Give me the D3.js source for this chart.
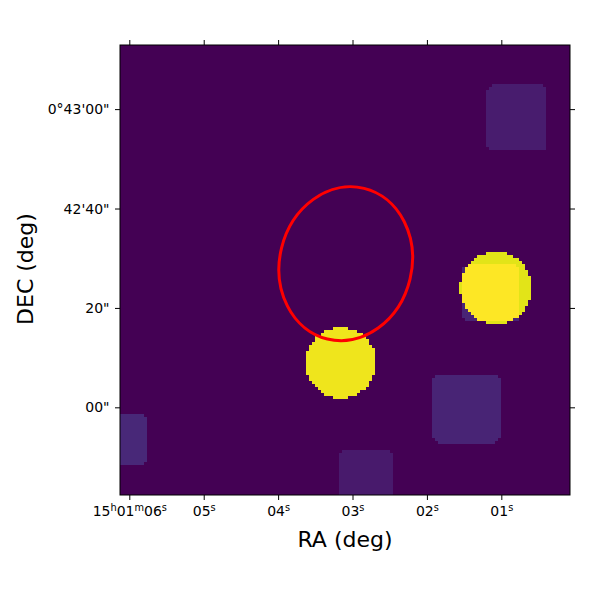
<!DOCTYPE html>
<html>
<head>
<meta charset="UTF-8">
<title>Cutout</title>
<style>
  body { margin: 0; background: #fff; }
  text { font-family: "DejaVu Sans", sans-serif; fill: #000; }
  .tick line { stroke: #000; stroke-width: 1; }
  .pix rect { shape-rendering: crispEdges; }
</style>
</head>
<body>
<svg id="chart" width="600" height="600"></svg>
<script src="https://d3js.org/d3.v7.min.js"></script>
<script>
// RA in seconds of 15h01m, Dec in arcsec relative to 0°42'00"
var raExtent = [6.125, 0.077];
var decExtent = [-17.64, 72.9];
var nPix = 150;

var raTicks = [6, 5, 4, 3, 2, 1];
var raTickLabels = ["15h01m06s", "05s", "04s", "03s", "02s", "01s"];
var decTicks = [60, 40, 20, 0];
var decTickLabels = ["0°43'00\"", "42'40\"", "20\"", "00\""];

// bright round sources: centre, radius (arcsec), value
var circleRa = [1.074, 3.157];
var circleDec = [24.0, 8.95];
var circleR = [7.24, 7.1];
var circleVal = [0.955, 0.975];

// faint square sources: ra range, dec range, value
var boxRa = [[1.528, 0.749], [1.922, 1.018], [1.196, 0.382], [6.394, 5.766], [3.191, 2.465]];
var boxDec = [[17.2, 28.6], [-7.1, 6.5], [51.6, 64.8], [-11.75, -1.35], [-20.7, -8.6]];
var boxVal = [0.10, 0.10, 0.075, 0.11, 0.07];

// region ellipse: centre, semi axes (arcsec), rotation (deg)
var regionRa = 3.091, regionDec = 28.9;
var regionAxes = [13.3, 15.6];
var regionAngle = 13.7;

var svg = d3.select("#chart");
svg.append("rect").attr("width", 600).attr("height", 600).attr("fill", "#fff");

var x = d3.scaleLinear().domain(raExtent).range([120, 570]);
var y = d3.scaleLinear().domain(decExtent).range([495, 45]);
var pxPerArcsec = Math.abs(y(1) - y(0));
var color = d3.scaleSequential(d3.interpolateViridis).domain([0, 1]).clamp(true);

var col = d3.scaleBand().domain(d3.range(nPix)).range([120, 570]);
var row = d3.scaleBand().domain(d3.range(nPix)).range([45, 495]);
var bw = col.bandwidth(), bh = row.bandwidth();

function pixelValue(px, py) {
    var v = 0;
    circleRa.forEach(function (ra, k) {
        var dx = px - x(ra), dy = py - y(circleDec[k]), r = circleR[k] * pxPerArcsec;
        if (dx * dx + dy * dy <= r * r) v += circleVal[k];
    });
    boxRa.forEach(function (ra, k) {
        var x0 = Math.min(x(ra[0]), x(ra[1])), x1 = Math.max(x(ra[0]), x(ra[1]));
        var y0 = Math.min(y(boxDec[k][0]), y(boxDec[k][1])), y1 = Math.max(y(boxDec[k][0]), y(boxDec[k][1]));
        var rc = 7;
        var qx = Math.max(x0 + rc - px, 0, px - (x1 - rc));
        var qy = Math.max(y0 + rc - py, 0, py - (y1 - rc));
        if (px >= x0 && px <= x1 && py >= y0 && py <= y1 && qx * qx + qy * qy <= rc * rc) v += boxVal[k];
    });
    return v;
}

var cells = [];
d3.range(nPix).forEach(function (j) {
    d3.range(nPix).forEach(function (i) {
        cells.push({ i: i, j: j, v: pixelValue(col(i) + bw / 2, row(j) + bh / 2) });
    });
});

svg.append("clipPath").attr("id", "frame-clip")
    .append("rect").attr("x", 120).attr("y", 45).attr("width", 450).attr("height", 450);

var plot = svg.append("g").attr("clip-path", "url(#frame-clip)");

plot.append("g").attr("class", "pix")
    .selectAll("rect")
    .data(cells)
    .enter().append("rect")
    .attr("x", function (d) { return col(d.i); })
    .attr("y", function (d) { return row(d.j); })
    .attr("width", bw)
    .attr("height", bh)
    .attr("fill", function (d) { return color(d.v); });

var ex = x(regionRa), ey = y(regionDec);
plot.append("ellipse")
    .attr("cx", ex)
    .attr("cy", ey)
    .attr("rx", regionAxes[0] * pxPerArcsec)
    .attr("ry", regionAxes[1] * pxPerArcsec)
    .attr("transform", "rotate(" + regionAngle + "," + ex + "," + ey + ")")
    .attr("fill", "none")
    .attr("stroke", "#ff0000")
    .attr("stroke-width", 3);

// axes on all four sides, labels bottom and left
var bottomAxis = svg.append("g").attr("transform", "translate(0,495)")
    .call(d3.axisBottom(x).tickValues(raTicks).tickSize(5).tickPadding(5)
        .tickFormat(function (d, i) { return raTickLabels[i]; }));
svg.append("g").attr("transform", "translate(0,45)")
    .call(d3.axisTop(x).tickValues(raTicks).tickSize(5).tickFormat(""));
svg.append("g").attr("transform", "translate(120,0)")
    .call(d3.axisLeft(y).tickValues(decTicks).tickSize(5).tickPadding(5.5)
        .tickFormat(function (d, i) { return decTickLabels[i]; }));
svg.append("g").attr("transform", "translate(570,0)")
    .call(d3.axisRight(y).tickValues(decTicks).tickSize(5).tickFormat(""));

svg.selectAll(".domain").remove();
svg.selectAll(".tick text").attr("font-size", 14).attr("font-family", "DejaVu Sans, sans-serif");

// sexagesimal units as superscripts, baseline set explicitly
bottomAxis.selectAll(".tick text").attr("dy", null).attr("y", 20.5).each(function () {
    var t = d3.select(this), s = t.text();
    t.text(null);
    var parts = s.match(/\d+|[hms]/g);
    var raised = false;
    parts.forEach(function (p) {
        if (/[hms]/.test(p)) {
            t.append("tspan").attr("font-size", 9.8).attr("dy", -5).text(p);
            raised = true;
        } else {
            var ts = t.append("tspan").text(p);
            if (raised) ts.attr("dy", 5);
            raised = false;
        }
    });
});

svg.append("rect")
    .attr("x", 120).attr("y", 45).attr("width", 450).attr("height", 450)
    .attr("fill", "none").attr("stroke", "#000").attr("stroke-width", 1);

svg.append("text")
    .attr("x", 345).attr("y", 547)
    .attr("text-anchor", "middle")
    .attr("font-size", 22)
    .text("RA (deg)");

svg.append("text")
    .attr("transform", "translate(32.5,269) rotate(-90)")
    .attr("text-anchor", "middle")
    .attr("font-size", 22)
    .text("DEC (deg)");
</script>
</body>
</html>
